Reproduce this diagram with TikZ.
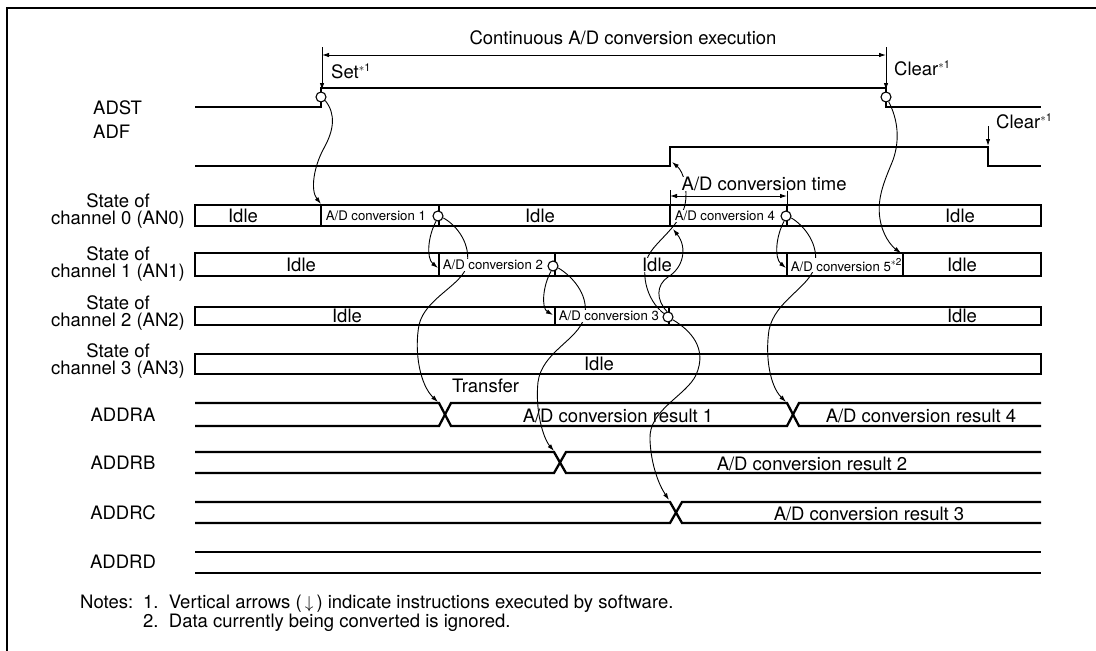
\documentclass[tikz,border=0pt]{standalone}
\usepackage{fontspec}
\setmainfont{TeX Gyre Heros}
\usetikzlibrary{arrows.meta}
\newcommand\supast[1]{\raisebox{0.40em}{\fontsize{11}{11}\selectfont$\ast$#1}}
\newcommand\supsm[1]{\raisebox{0.42em}{\fontsize{10}{10}\selectfont$\ast$#1}}
\begin{document}
\begin{tikzpicture}[x=1pt,y=-1pt,
  sig/.style={line width=2.3pt},
  boxl/.style={line width=2.3pt},
  curve/.style={line width=0.9pt},
  arr/.style={-{Latex[length=7pt,width=4.5pt]}},
  darr/.style={{Latex[length=7pt,width=4.5pt]}-{Latex[length=7pt,width=4.5pt]}},
  dim/.style={line width=0.9pt},
  circ/.style={circle,draw,fill=white,line width=1.1pt,minimum size=10pt,inner sep=0pt},
  big/.style={font=\fontsize{18.5}{17}\selectfont},
  small/.style={font=\fontsize{13.2}{14}\selectfont},
  lbl/.style={big,inner sep=0pt},
  intext/.style={fill=white,inner sep=0.6pt},
]
\useasboundingbox (0,0) rectangle (1096,651);
\fill[white] (0,0) rectangle (1096,651);
\draw[line width=2.5pt] (7,660) -- (7,8) -- (1105,8);

% ---------- left labels ----------
\node[lbl,anchor=west] (lADST) at (93,108) {ADST};
\node[lbl,anchor=west] (lADF) at (93,132) {ADF};
\node[lbl,align=center] (l0) at (118,211) {State of\\channel 0 (AN0)};
\node[lbl,align=center] (l1) at (118,264) {State of\\channel 1 (AN1)};
\node[lbl,align=center] (l2) at (118,313) {State of\\channel 2 (AN2)};
\node[lbl,align=center] (l3) at (118,361) {State of\\channel 3 (AN3)};
\node[lbl] (lA) at (123,415) {ADDRA};
\node[lbl] (lB) at (123,463) {ADDRB};
\node[lbl] (lC) at (123,513) {ADDRC};
\node[lbl] (lD) at (123,562) {ADDRD};

% ---------- ADST / ADF ----------
\draw[sig] (195,107) -- (321,107) -- (321,88) -- (886,88) -- (886,107) -- (1041,107);
\draw[sig] (195,166) -- (670,166) -- (670,147) -- (988,147) -- (988,166) -- (1041,166);

% ---------- channel boxes ----------
\draw[boxl] (195,205) rectangle (1041,226);
\draw[boxl] (321,205) -- (321,226) (439,205) -- (439,226) (670,205) -- (670,226) (787,205) -- (787,226);
\draw[boxl] (195,253) rectangle (1041,276);
\draw[boxl] (439,253) -- (439,276) (555,253) -- (555,276) (787,253) -- (787,276) (903,253) -- (903,276);
\draw[boxl] (195,307) rectangle (1041,325);
\draw[boxl] (555,307) -- (555,325) (669,307) -- (669,325);
\draw[boxl] (195,354) rectangle (1041,374);

% ---------- data buses ----------
\draw[sig] (195,403) -- (439,403) -- (451,426) -- (787,426) -- (799,403) -- (1041,403);
\draw[sig] (195,426) -- (439,426) -- (451,403) -- (787,403) -- (799,426) -- (1041,426);
\draw[sig] (195,452) -- (554,452) -- (566,473) -- (1041,473);
\draw[sig] (195,473) -- (554,473) -- (566,452) -- (1041,452);
\draw[sig] (195,502) -- (670,502) -- (682,523) -- (1041,523);
\draw[sig] (195,523) -- (670,523) -- (682,502) -- (1041,502);
\draw[sig] (195,552) -- (1041,552);
\draw[sig] (195,573) -- (1041,573);

% ---------- dimension marks ----------
\draw[dim,arr] (322,47) -- (322,90);
\draw[dim,arr] (886,47) -- (886,90);
\draw[dim,darr] (322,55) -- (886,55);
\draw[dim,arr] (988,126) -- (988,146);
\draw[dim] (670,190) -- (670,205) (787,190) -- (787,205);
\draw[dim,darr] (670,196) -- (787,196);

% ---------- target coordinates ----------
\coordinate (t0) at (321,204);
\coordinate (t1a) at (438,268);
\coordinate (tA1) at (438,402);
\coordinate (t2a) at (553,315);
\coordinate (tB) at (554,451);
\coordinate (tF) at (672,162);
\coordinate (t4) at (673,229);
\coordinate (tC) at (669,500);
\coordinate (t5) at (786,268);
\coordinate (tA2) at (786,402);
\coordinate (t6) at (901,253);

% ---------- circles ----------
\node[circ] (s0) at (321,97) {};
\node[circ] (s1) at (886,97) {};
\node[circ] (c1) at (438,216) {};
\node[circ] (c2) at (553,266) {};
\node[circ] (c3) at (668,317) {};
\node[circ] (c4) at (786,216) {};

% ---------- curves ----------
\draw[curve,arr] (s0.-40) .. controls (336,114) and (334,130) .. (324,148) .. controls (314,166) and (310,190) .. (t0);
\draw[curve,arr] (c1.-110) .. controls (428,236) and (426,258) .. (t1a);
\draw[curve,arr] (c1.-20) .. controls (458,226) and (471,245) .. (467,265) .. controls (463,285) and (425,298) .. (419,325) .. controls (414,352) and (420,385) .. (tA1);
\draw[curve,arr] (c2.-110) .. controls (543,285) and (541,308) .. (t2a);
\draw[curve,arr] (c2.-20) .. controls (575,278) and (590,298) .. (584,318) .. controls (578,340) and (542,352) .. (538,382) .. controls (535,410) and (543,438) .. (tB);
\draw[curve,arr] (c3.140) .. controls (646,300) and (639,270) .. (650,253) .. controls (658,240) and (680,225) .. (685,205) .. controls (688,190) and (684,172) .. (tF);
\draw[curve,arr] (c3.100) .. controls (656,300) and (656,285) .. (668,277) .. controls (683,268) and (688,248) .. (t4);
\draw[curve,arr] (c3.-30) .. controls (690,330) and (708,348) .. (696,375) .. controls (686,396) and (648,410) .. (650,440) .. controls (651,465) and (659,485) .. (tC);
\draw[curve,arr] (c4.-110) .. controls (776,236) and (774,258) .. (t5);
\draw[curve,arr] (c4.-20) .. controls (805,226) and (819,245) .. (815,265) .. controls (811,287) and (775,300) .. (769,330) .. controls (765,357) and (770,386) .. (tA2);
\draw[curve,arr] (s1.-60) .. controls (898,120) and (900,140) .. (893,160) .. controls (885,180) and (875,200) .. (881,224) .. controls (885,240) and (894,248) .. (t6);

% ---------- top texts ----------
\node[lbl] (cont) at (623,38) {Continuous A/D conversion execution};
\node[lbl,anchor=west] (set) at (331,71) {Set\supast{1}};
\node[lbl,anchor=west] (clr1) at (894,68) {Clear\supast{1}};
\node[lbl,anchor=west] (clr2) at (996,121) {Clear\supast{1}};
\node[lbl,anchor=west,fill=white,inner sep=0.5pt] (adtime) at (681,184) {A/D conversion time};

% ---------- box texts ----------
\node[big,intext] at (243,216) {Idle};
\node[small,intext,anchor=west] at (325,216) {A/D conversion 1};
\node[big,intext] at (540,216) {Idle};
\node[small,intext,anchor=west] at (674,216) {A/D conversion 4};
\node[big,intext] at (960,216) {Idle};

\node[big,intext] at (301,265) {Idle};
\node[small,intext,anchor=west] at (442,265) {A/D conversion 2};
\node[big,intext] at (657,265) {Idle};
\node[small,intext,anchor=west] at (790,265) {A/D conversion 5\supsm{2}};
\node[big,intext] at (962,265) {Idle};

\node[big,intext] at (347,316) {Idle};
\node[small,intext,anchor=west] at (558,316) {A/D conversion 3};
\node[big,intext] at (962,316) {Idle};

\node[big,intext] at (599,364) {Idle};

% ---------- bus texts ----------
\node[lbl,anchor=west] (tr) at (452,386) {Transfer};
\node[lbl] at (618,416) {A/D conversion result 1};
\node[lbl] at (921,416) {A/D conversion result 4};
\node[lbl] at (812,464) {A/D conversion result 2};
\node[lbl] at (869,514) {A/D conversion result 3};

% ---------- notes ----------
\node[lbl,anchor=north west] (notes) at (80,595) {\begin{tabular}{@{}l@{}l@{}}
\makebox[63pt][l]{Notes:} & 1.\ \ Vertical arrows (\,$\downarrow$\,) indicate instructions executed by software.\\
 & 2.\ \ Data currently being converted is ignored.
\end{tabular}};
\end{tikzpicture}
\end{document}
